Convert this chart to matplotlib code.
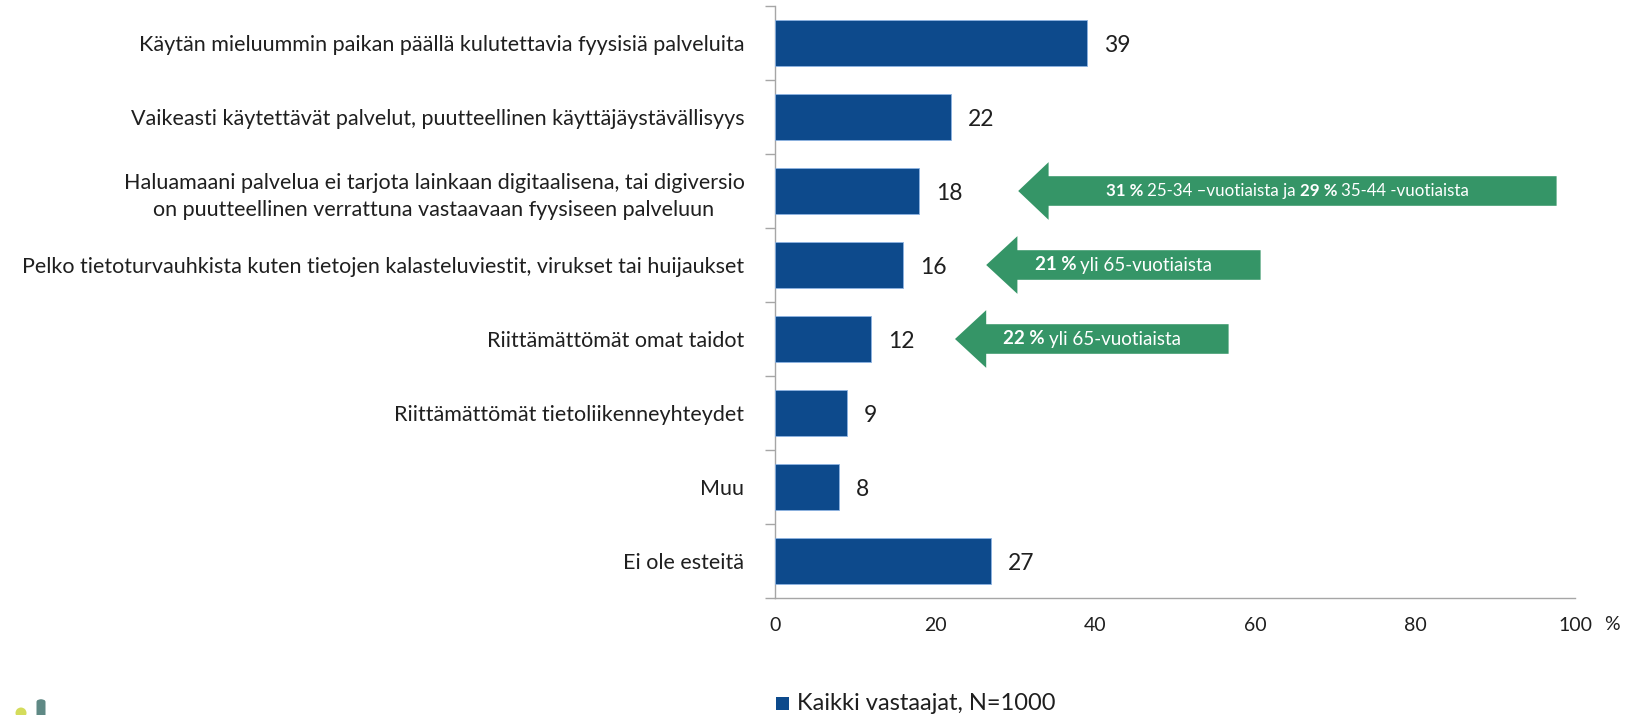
import matplotlib
matplotlib.use('Agg')
import matplotlib.pyplot as plt
from matplotlib.patches import Polygon, Ellipse, FancyBboxPatch
from matplotlib.ticker import FixedLocator

# ---------------- data ----------------
categories = [
    "Käytän mieluummin paikan päällä kulutettavia fyysisiä palveluita",
    "Vaikeasti käytettävät palvelut, puutteellinen käyttäjäystävällisyys",
    "Haluamaani palvelua ei tarjota lainkaan digitaalisena, tai digiversio\non puutteellinen verrattuna vastaavaan fyysiseen palveluun",
    "Pelko tietoturvauhkista kuten tietojen kalasteluviestit, virukset tai huijaukset",
    "Riittämättömät omat taidot",
    "Riittämättömät tietoliikenneyhteydet",
    "Muu",
    "Ei ole esteitä",
]
values = [39, 22, 18, 16, 12, 9, 8, 27]
x_ticks = [0, 20, 40, 60, 80, 100]
series_name = "Kaikki vastaajat, N=1000"

callout_rows = [2, 3, 4]
callout_segments = [
    [("31 %", True), ("25-34 –vuotiaista ja", False), ("29 %", True), ("35-44 -vuotiaista", False)],
    [("21 %", True), ("yli 65-vuotiaista", False)],
    [("22 %", True), ("yli 65-vuotiaista", False)],
]
# arrow geometry (tip x, head-base x, right end x) in axis units
callout_geom = [(30.4, 34.2, 97.7), (26.4, 30.3, 60.7), (22.5, 26.4, 56.7)]
callout_fontsizes = [12.2, 13.5, 13.5]

# ---------------- style ----------------
W, H = 1628, 715
DPI = 100
FONT = "Lato"
bar_color = "#0D4A8C"
arrow_color = "#359567"
axis_color = "#A6A6A6"
text_color = "#1F1F1F"

plt.rcParams['font.family'] = [FONT, 'DejaVu Sans']

fig = plt.figure(figsize=(W / DPI, H / DPI), dpi=DPI)
ax = fig.add_axes([775 / W, 1 - 598 / H, (1575 - 775) / W, (598 - 6) / H])

n = len(categories)
ypos = list(range(n))
ax.barh(ypos, values, height=0.62, color=bar_color, edgecolor="#8DB3E2", linewidth=0.6, zorder=3)

ax.set_xlim(0, 100)
ax.set_ylim(n - 0.5, -0.5)

# value labels
for y, v in zip(ypos, values):
    ax.annotate(str(v), xy=(v, y), xytext=(17, -2), textcoords='offset pixels',
                ha='left', va='center', fontsize=16.5, color=text_color)

# y axis: labels at centers, tick marks at boundaries
ax.set_yticks(ypos)
ax.set_yticklabels(categories, fontsize=15.5, color=text_color, linespacing=1.45)
for lbl in ax.get_yticklabels():
    lbl.set_multialignment('center')
ax.tick_params(axis='y', which='major', length=0, pad=22)
ax.yaxis.set_minor_locator(FixedLocator([i - 0.5 for i in range(n + 1)]))
ax.tick_params(axis='y', which='minor', length=7, width=1, color=axis_color, direction='out')

# x axis
ax.set_xticks(x_ticks)
ax.set_xticklabels([str(t) for t in x_ticks], fontsize=14, color=text_color)
ax.tick_params(axis='x', length=0, pad=14)
ax.text(1612 / W, 1 - 625 / H, "%", transform=fig.transFigure, ha='center', va='center',
        fontsize=14, color=text_color)

for s in ['top', 'right']:
    ax.spines[s].set_visible(False)
for s in ['left', 'bottom']:
    ax.spines[s].set_color(axis_color)
    ax.spines[s].set_linewidth(1)

# legend (manual)
fig.patches.append(FancyBboxPatch((776 / W, 1 - 710 / H), 13 / W, 13 / H, boxstyle='square,pad=0',
                                  transform=fig.transFigure, facecolor=bar_color, edgecolor='none'))
fig.text(797 / W, 1 - 703 / H, series_name, ha='left', va='center', fontsize=17, color=text_color)

# callout arrows
body_h = 0.20
head_h = 0.39
for row, (tip, base, right) in zip(callout_rows, callout_geom):
    pts = [(tip, row), (base, row - head_h), (base, row - body_h), (right, row - body_h),
           (right, row + body_h), (base, row + body_h), (base, row + head_h)]
    ax.add_patch(Polygon(pts, closed=True, facecolor=arrow_color, edgecolor='none', zorder=4))

fig.canvas.draw()
renderer = fig.canvas.get_renderer()
for row, (tip, base, right), segs, fs_call in zip(callout_rows, callout_geom, callout_segments,
                                                  callout_fontsizes):
    gap_px = 0.22 * fs_call * DPI / 72
    texts = []
    for s, bold in segs:
        t = ax.text(0, row, s, fontsize=fs_call, color='white', fontweight='bold' if bold else 'normal',
                    ha='left', va='center', zorder=5)
        texts.append(t)
    widths = [t.get_window_extent(renderer).width for t in texts]
    total = sum(widths) + gap_px * (len(texts) - 1)
    cx, cy = ax.transData.transform(((tip + right) / 2, row))
    x0 = cx - total / 2
    inv = ax.transData.inverted()
    for t, w in zip(texts, widths):
        dx, _ = inv.transform((x0, cy))
        t.set_x(dx)
        x0 += w + gap_px

# small logo fragment in bottom-left corner
fig.patches.append(Ellipse((21 / W, 1 - 713 / H), 11 / W, 11 / H, transform=fig.transFigure,
                           facecolor="#D4DC5B", edgecolor='none'))
fig.patches.append(FancyBboxPatch((36.5 / W, 1 - 725 / H), 9 / W, 26 / H,
                                  boxstyle='round,pad=0,rounding_size=0.004',
                                  transform=fig.transFigure, facecolor="#5F8985", edgecolor='none'))

fig.savefig("out.png", dpi=DPI)
